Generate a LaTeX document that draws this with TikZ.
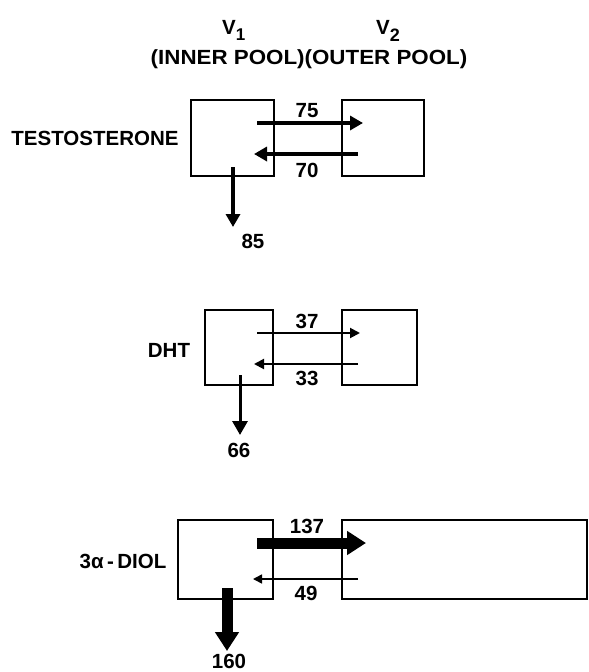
\documentclass[tikz,border=0pt]{standalone}
\usepackage{fontspec}
\setmainfont{Liberation Sans}
\usetikzlibrary{arrows.meta}
\begin{document}
\begin{tikzpicture}[x=1pt,y=-1pt,
  every node/.style={font=\fontsize{20.5}{24}\selectfont\bfseries},
  pool/.style={draw,line width=1.8pt,inner sep=0pt},
  lbl/.style={inner sep=0pt,anchor=base},
  heavy/.style={line width=3.5pt,-{Triangle[length=13pt,width=14pt]}},
  medium/.style={line width=2pt,-{Triangle[length=10pt,width=10pt]}},
  medtwo/.style={line width=3pt,-{Triangle[length=14pt,width=15pt]}},
  thin/.style={line width=1.5pt,-{Triangle[length=9pt,width=9pt]}},
  fat/.style={line width=11pt,-{Triangle[length=19pt,width=23pt]}}]
\useasboundingbox (0,0) rectangle (589,672);
% header
\node[lbl,anchor=base west] (v1) at (222,34) {V\raisebox{-6pt}{\fontsize{17}{20}\selectfont\bfseries 1}};
\node[lbl,anchor=base west] (v2) at (376,34) {V\raisebox{-7pt}{\fontsize{18}{20}\selectfont\bfseries 2}};
\node[lbl] (hdr) at (309,64) {\scalebox{1.09}[1]{(INNER POOL)(OUTER POOL)}};
% testosterone
\node[pool,minimum width=83pt,minimum height=76pt] (tA) at (232.5,138) {};
\node[pool,minimum width=82pt,minimum height=76pt] (tB) at (383,138) {};
\node[lbl] (tname) at (95,145) {TESTOSTERONE};
\coordinate (t75s) at (257,123); \coordinate (t75e) at (363,123);
\coordinate (t70s) at (358,154); \coordinate (t70e) at (254,154);
\coordinate (t85s) at (233,167); \coordinate (t85e) at (233,227);
\draw[heavy] (t75s) -- (t75e);
\draw[heavy] (t70s) -- (t70e);
\draw[heavy] (t85s) -- (t85e);
\node[lbl] (t75) at (307,117) {75};
\node[lbl] (t70) at (307,177) {70};
\node[lbl] (t85) at (253,248) {85};
% DHT
\node[pool,minimum width=68pt,minimum height=75pt] (dA) at (239,347.5) {};
\node[pool,minimum width=75pt,minimum height=75pt] (dB) at (379.5,347.5) {};
\node[lbl] (dname) at (169,357) {DHT};
\coordinate (d37s) at (257,333); \coordinate (d37e) at (360,333);
\coordinate (d33s) at (358,364); \coordinate (d33e) at (254,364);
\coordinate (d66s) at (240,375); \coordinate (d66e) at (240,435);
\draw[medium] (d37s) -- (d37e);
\draw[medium] (d33s) -- (d33e);
\draw[medtwo] (d66s) -- (d66e);
\node[lbl] (d37) at (307,328) {37};
\node[lbl] (d33) at (307,385) {33};
\node[lbl] (d66) at (239,457) {66};
% 3alpha-diol
\node[pool,minimum width=95pt,minimum height=79pt] (pA) at (225.5,559.5) {};
\node[pool,minimum width=245pt,minimum height=79pt] (pB) at (464.5,559.5) {};
\node[lbl] (pname) at (123,568) {3α\,-\,DIOL};
\coordinate (p137s) at (257,543); \coordinate (p137e) at (366,543);
\coordinate (p49s) at (358,579); \coordinate (p49e) at (253,579);
\coordinate (p160s) at (227,588); \coordinate (p160e) at (227,651);
\draw[fat] (p137s) -- (p137e);
\draw[thin] (p49s) -- (p49e);
\draw[fat] (p160s) -- (p160e);
\node[lbl] (p137) at (307,533) {137};
\node[lbl] (p49) at (306,600) {49};
\node[lbl] (p160) at (229,668) {160};
\end{tikzpicture}
\end{document}
